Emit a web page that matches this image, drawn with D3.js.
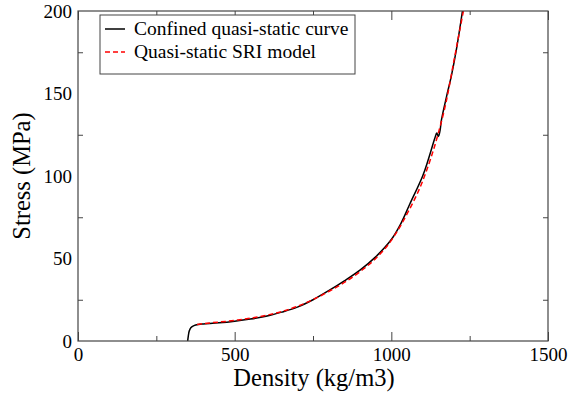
<!DOCTYPE html>
<html><head><meta charset="utf-8">
<script src="https://cdn.jsdelivr.net/npm/d3@7"></script>
<style>body{margin:0;background:#fff}svg{display:block}</style>
</head><body>
<svg id="c" width="569" height="397" font-family="Liberation Serif"></svg>
<script>
const seriesNames = ["Confined quasi-static curve", "Quasi-static SRI model"];
const confinedDensity = [350,352,355,360,370,385,400,450,500,550,600,650,700,750,800,850,900,950,1000,1030,1059,1100,1118,1139,1145,1150,1155,1160,1176,1192,1208,1227];
const confinedStress  = [0,3,6,8,9.3,10,10.3,11,12,13.3,15,17.5,20.5,25,30.5,36.5,43,51,61.5,71,83,100,110,123,126,124,127,134,148,161,177,200];
const sriDensity = [380,400,500,600,700,800,900,950,1000,1050,1100,1150,1175,1200,1230];
const sriStress  = [10,10.5,12.5,15.5,21,30,42,50,61,77,97,126,145,170,200];
const xMajor = [0,500,1000,1500];
const xMinor = [250,750,1250];
const yMajor = [0,50,100,150,200];
const yMinor = [25,75,125,175];

const FONT = "Liberation Serif";
const svg = d3.select("#c");
const L=78,R=548,T=11,B=341;
const x = d3.scaleLinear().domain([0,1500]).range([L,R]);
const y = d3.scaleLinear().domain([0,200]).range([B,T]);
const axc = "#444";

svg.append("clipPath").attr("id","clip").append("rect").attr("x",L).attr("y",T).attr("width",R-L).attr("height",B-T);

const conf = confinedDensity.map((d,i)=>[d,confinedStress[i]]);
const sri = sriDensity.map((d,i)=>[d,sriStress[i]]);
const lineC = d3.line().x(d=>x(d[0])).y(d=>y(d[1])).curve(d3.curveCatmullRom.alpha(0.5));
const lineS = d3.line().x(d=>x(d[0])).y(d=>y(d[1])).curve(d3.curveMonotoneX);

svg.append("path").attr("clip-path","url(#clip)").attr("d",lineC(conf)).attr("fill","none").attr("stroke","#000").attr("stroke-width",1.5);
svg.append("path").attr("clip-path","url(#clip)").attr("d",lineS(sri)).attr("fill","none").attr("stroke","#ff0000").attr("stroke-width",1.5).attr("stroke-dasharray","5,3");

const xb = svg.append("g").attr("transform",`translate(0,${B})`)
  .call(d3.axisBottom(x).tickValues(xMajor).tickSize(-9).tickPadding(0).tickFormat(d3.format("d")));
xb.selectAll(".tick text").attr("dy",null).attr("y",20).attr("font-size",19).attr("fill","#000");
svg.append("g").attr("transform",`translate(0,${B})`).call(d3.axisBottom(x).tickValues(xMinor).tickSize(-5).tickFormat(""));
svg.append("g").attr("transform",`translate(0,${T})`).call(d3.axisTop(x).tickValues(xMajor).tickSize(-9).tickFormat(""));
svg.append("g").attr("transform",`translate(0,${T})`).call(d3.axisTop(x).tickValues(xMinor).tickSize(-4).tickFormat(""));
const yl = svg.append("g").attr("transform",`translate(${L},0)`)
  .call(d3.axisLeft(y).tickValues(yMajor).tickSize(0).tickPadding(6).tickFormat(d3.format("d")));
yl.selectAll(".tick text").attr("font-size",19).attr("fill","#000");
svg.append("g").attr("transform",`translate(${L},0)`).call(d3.axisLeft(y).tickValues(yMinor).tickSize(-5).tickFormat(""));
svg.append("g").attr("transform",`translate(${R},0)`).call(d3.axisRight(y).tickValues(yMinor).tickSize(-5).tickFormat(""));
svg.selectAll(".domain").remove();
svg.selectAll(".tick line").attr("stroke",axc);
svg.selectAll("g").attr("font-family",FONT);
svg.append("rect").attr("x",L).attr("y",T).attr("width",R-L).attr("height",B-T).attr("fill","none").attr("stroke",axc).attr("stroke-width",1.2);

svg.append("text").attr("x",(L+R)/2+1).attr("y",386).attr("text-anchor","middle").attr("font-size",24.5).text("Density (kg/m3)");
svg.append("text").attr("transform",`translate(30,${(T+B)/2}) rotate(-90)`).attr("text-anchor","middle").attr("font-size",24.5).text("Stress (MPa)");

const lg = svg.append("g");
lg.append("rect").attr("x",100).attr("y",15).attr("width",255).attr("height",59).attr("fill","#fff").attr("stroke",axc).attr("stroke-width",1);
lg.append("line").attr("x1",105).attr("x2",125).attr("y1",29).attr("y2",29).attr("stroke","#000").attr("stroke-width",1.5);
lg.append("line").attr("x1",105).attr("x2",125).attr("y1",52).attr("y2",52).attr("stroke","#ff0000").attr("stroke-width",1.5).attr("stroke-dasharray","5,3");
lg.selectAll("text.lt").data(seriesNames).join("text").attr("class","lt")
  .attr("x",134).attr("y",(d,i)=>35+i*23).attr("font-size",19.5).text(d=>d);
svg.selectAll("text").attr("font-family",FONT);
</script>
</body></html>
